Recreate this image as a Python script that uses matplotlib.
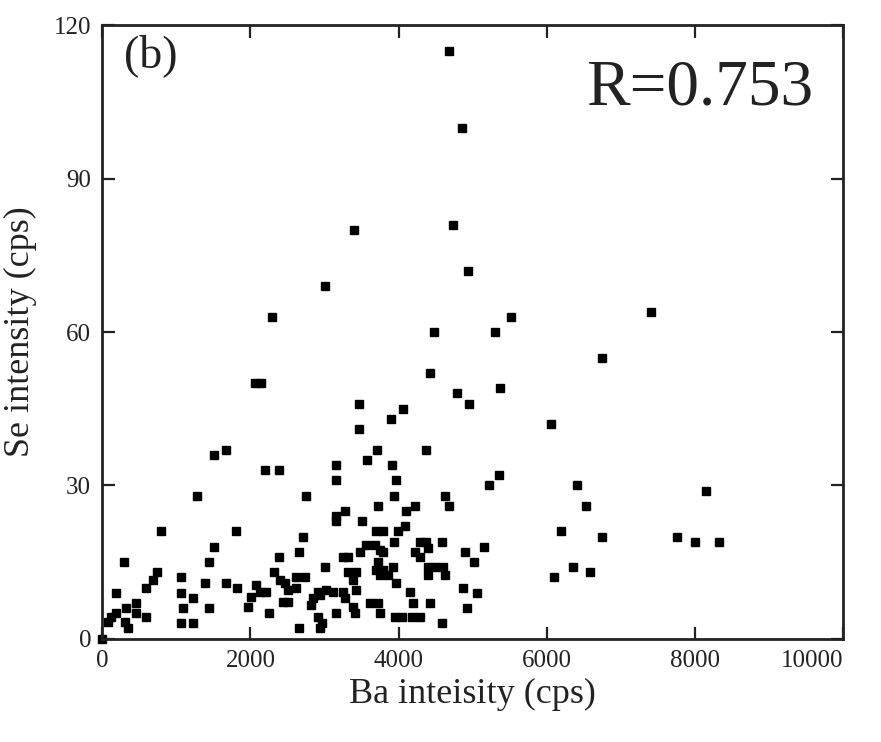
import matplotlib
matplotlib.use("Agg")
import matplotlib.pyplot as plt

# ── Data (Ba vs Se intensity, cps) ───────────────────────────────────────
ba = [
    0, 80, 120, 310, 350, 190, 190, 320, 460, 460, 590, 590, 690, 740,
    300, 800, 1070, 1070, 1090, 1070, 1230, 1230, 1280, 1390, 1440, 1440,
    1510, 1510, 1670, 1670, 1820, 1810, 1970, 2010, 2080, 2130, 2210, 2250,
    2060, 2150, 2200, 2380, 2290, 2320, 2400, 2380, 2440, 2510, 2470, 2510,
    2620, 2740, 2620, 2660, 2660, 2710, 2750, 2820, 2850, 2910, 2940, 3020,
    3120, 2910, 2960, 2940, 3010, 3010, 3150, 3150, 3160, 3150, 3150, 3250,
    3280, 3390, 3410, 3250, 3320, 3280, 3320, 3430, 3390, 3430, 3400, 3470,
    3470, 3500, 3480, 3560, 3680, 3750, 3790, 3570, 3710, 3620, 3720, 3750,
    3700, 3790, 3720, 3720, 3700, 3790, 3930, 3750, 3860, 3900, 3910, 3940,
    3940, 3970, 3970, 3990, 4090, 4060, 3950, 4040, 4180, 4290, 4100, 4220,
    4160, 4200, 4430, 4290, 4370, 4400, 4220, 4290, 4370, 4430, 4480, 4400,
    4490, 4600, 4400, 4630, 4590, 4590, 4630, 4680, 4680, 4740, 4790, 4850,
    4940, 4950, 4870, 4900, 4930, 5020, 5060, 5150, 5220, 5360, 5370, 5300,
    5520, 6060, 6100, 6190, 6360, 6410, 6530, 6590, 6740, 6750, 7410, 7760,
    8000, 8150, 8330,
]
se = [
    0, 3.3, 4.3, 3.3, 2.1, 5, 9, 6, 7, 5, 4.3, 10, 11.5, 13,
    15, 21, 12, 9, 6, 3.1, 3.1, 8, 28, 11, 15, 6,
    18, 36, 37, 11, 10, 21, 6.3, 8.2, 10.5, 9.2, 9.2, 5,
    50, 50, 33, 33, 63, 13, 11.5, 16, 7.2, 7.2, 11, 9.6,
    12, 12, 10, 17, 2.1, 20, 28, 6.6, 8, 9.2, 8.6, 9.6,
    9.2, 4.3, 3.1, 2.1, 14, 69, 5, 24, 23, 31, 34, 9.2,
    8, 6.3, 5, 16, 16, 25, 13, 13, 11.5, 9.6, 80, 46,
    41, 23, 17, 18.4, 18.4, 17.4, 17, 35, 37, 7, 7, 5,
    21, 21, 26, 15, 13.5, 13.5, 14, 12.5, 12.5, 43, 34, 28,
    19, 31, 11, 21, 22, 45, 4.3, 4.3, 4.3, 4.3, 25, 26,
    9.2, 7, 7, 19, 19, 17.8, 17, 16, 37, 52, 60, 14,
    14, 14, 12.5, 12.5, 19, 3.1, 28, 26, 115, 81, 48, 100,
    72, 46, 10, 17, 6, 15, 9, 18, 30, 32, 49, 60,
    63, 42, 12, 21, 14, 30, 26, 13, 20, 55, 64, 20,
    19, 29, 19,
]

x_ticks = [0, 2000, 4000, 6000, 8000, 10000]
y_ticks = [0, 30, 60, 90, 120]

plt.rcParams["font.family"] = ["Liberation Serif", "DejaVu Serif"]

fig = plt.figure(figsize=(8.81, 7.42), dpi=100)
ax = fig.add_axes([0.116, 0.139, 0.841, 0.827])

ax.plot(ba, se, linestyle="none", marker="s", markersize=6.2,
        color="black", clip_on=False)

ax.set_xlim(0, 10000)
ax.set_ylim(0, 120)
ax.set_xticks(x_ticks)
ax.set_yticks(y_ticks)
ax.tick_params(direction="in", length=9, width=1.6, top=True, right=True,
               labelsize=18, colors="#222222", pad=8)
ax.get_xticklabels()[-1].set_horizontalalignment("right")
for side in ax.spines.values():
    side.set_linewidth(2)
    side.set_color("#222222")

ax.set_xlabel("Ba inteisity (cps)", fontsize=26, labelpad=4, color="#222222")
ax.set_ylabel("Se intensity (cps)", fontsize=26, labelpad=12, color="#222222")

ax.text(0.03, 0.985, "(b)", transform=ax.transAxes, fontsize=33,
        ha="left", va="top", color="#222222")
ax.text(0.96, 0.945, "R=0.753", transform=ax.transAxes, fontsize=47,
        ha="right", va="top", color="#222222")

fig.savefig("out.png", dpi=100)
